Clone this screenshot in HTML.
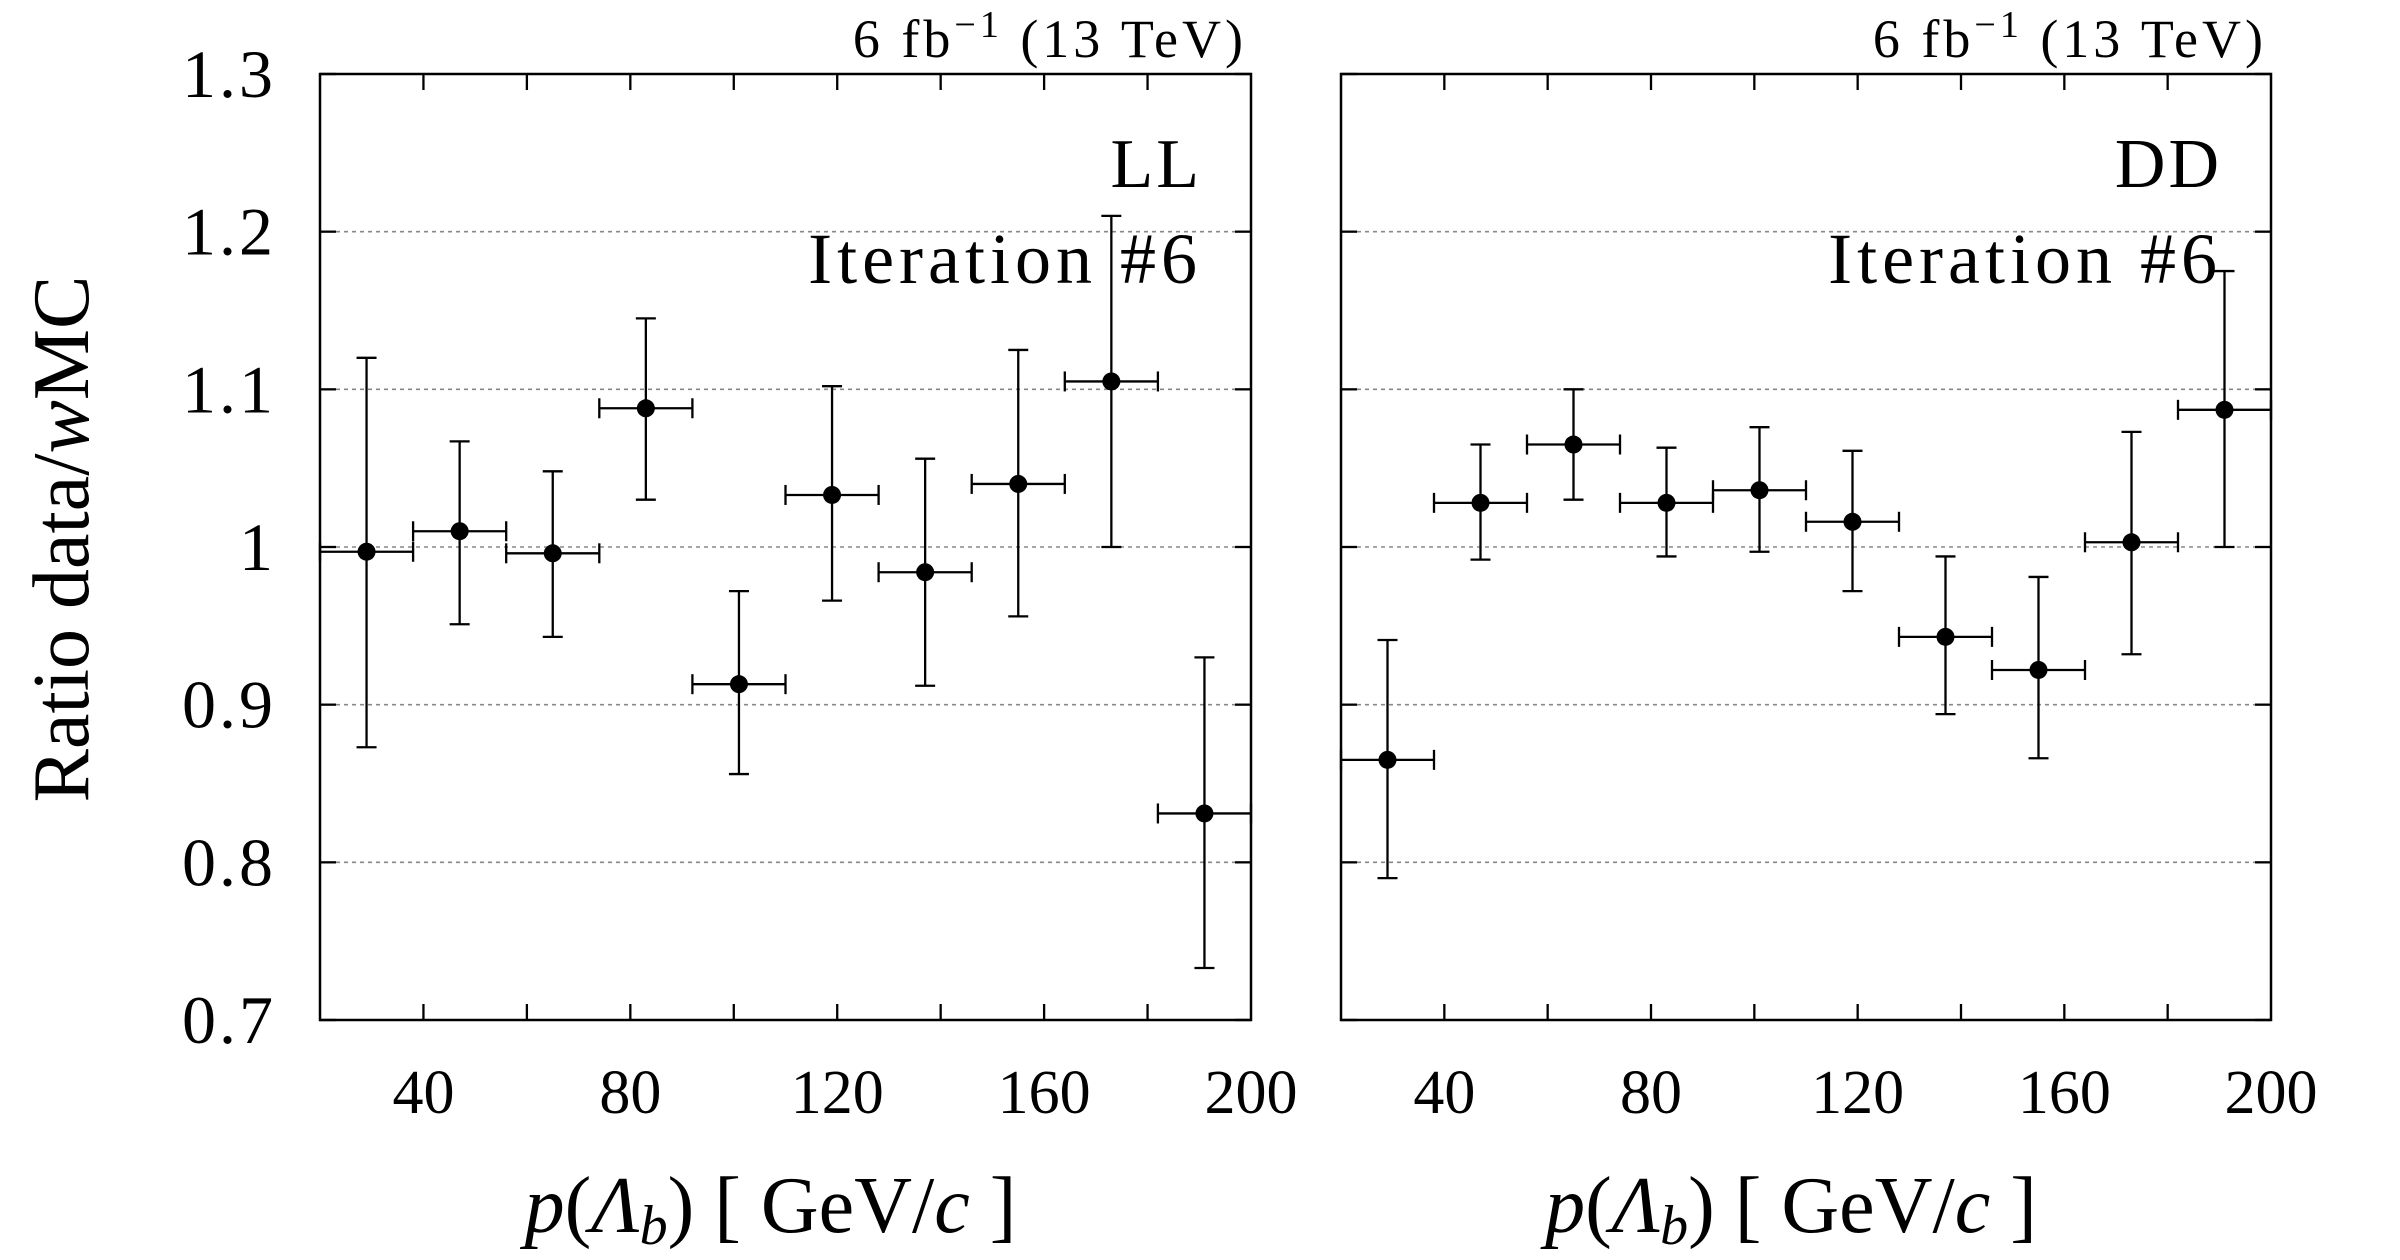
<!DOCTYPE html>
<html><head><meta charset="utf-8"><style>
html,body{margin:0;padding:0;background:#fff}
svg{display:block}
text{font-family:"Liberation Serif",serif;fill:#000}
</style></head><body>
<svg id="c" width="2400" height="1260" viewBox="0 0 2400 1260"></svg>
<script>
const binCenters=[29,47,65,83,101,119,137,155,173,191];
const binHalf=9;
const llValues=[0.997,1.010,0.996,1.088,0.913,1.033,0.984,1.040,1.105,0.831];
const llLow=[0.873,0.951,0.943,1.030,0.856,0.966,0.912,0.956,1.000,0.733];
const llHigh=[1.120,1.067,1.048,1.145,0.972,1.102,1.056,1.125,1.210,0.930];
const ddValues=[0.865,1.028,1.065,1.028,1.036,1.016,0.943,0.922,1.003,1.087];
const ddLow=[0.790,0.992,1.030,0.994,0.997,0.972,0.894,0.866,0.932,1.000];
const ddHigh=[0.941,1.065,1.100,1.063,1.076,1.061,0.994,0.981,1.073,1.175];
const xTicks=[40,80,120,160,200];
const xMinorTicks=[20,60,100,140,180];
const yTicks=[0.7,0.8,0.9,1.0,1.1,1.2,1.3];
const yTickLabels=["0.7","0.8","0.9","1","1.1","1.2","1.3"];
const gridVals=[0.8,0.9,1.0,1.1,1.2];

const NS="http://www.w3.org/2000/svg";
const svg=document.getElementById('c');
function mk(tag,attrs,parent,txt){const e=document.createElementNS(NS,tag);for(const k in attrs)e.setAttribute(k,attrs[k]);if(txt!==undefined)e.textContent=txt;(parent||svg).appendChild(e);return e;}
const plotTop=74,plotBot=1020,yMin=0.7,yMax=1.3,xMin=20,xMax=200;

function panel(left,right,vals,lo,hi,tag,name,showY){
  const g=mk('g',{});
  
  
  const X=v=>left+(v-xMin)/(xMax-xMin)*(right-left);
  const Y=v=>plotBot-(v-yMin)/(yMax-yMin)*(plotBot-plotTop);
  gridVals.forEach(v=>{const l=mk('line',{x1:left,x2:right,y1:Y(v),y2:Y(v),stroke:'#888','stroke-width':1.6,'stroke-dasharray':'4,4'},g);
    });
  const fr=mk('rect',{x:left,y:plotTop,width:right-left,height:plotBot-plotTop,fill:'none',stroke:'#000','stroke-width':2.5},g);
  
  yTicks.forEach((v,i)=>{
    mk('line',{x1:left,x2:left+16,y1:Y(v),y2:Y(v),stroke:'#000','stroke-width':2.3},g);
    mk('line',{x1:right,x2:right-16,y1:Y(v),y2:Y(v),stroke:'#000','stroke-width':2.3},g);
    if(showY){const t=mk('text',{x:left-44,y:Y(v)+23,'font-size':68,'letter-spacing':3,'text-anchor':'end'},g,yTickLabels[i]);
      }
  });
  xTicks.concat(xMinorTicks).forEach(v=>{
    if(v<=xMin||v>=xMax)return;
    mk('line',{x1:X(v),x2:X(v),y1:plotBot,y2:plotBot-16,stroke:'#000','stroke-width':2.3},g);
    mk('line',{x1:X(v),x2:X(v),y1:plotTop,y2:plotTop+16,stroke:'#000','stroke-width':2.3},g);
  });
  xTicks.forEach(v=>{const t=mk('text',{x:X(v),y:1113,'font-size':62,'text-anchor':'middle'},g,String(v));
    });
  vals.forEach((v,i)=>{
    const c=binCenters[i];
    const pg=mk('g',{},g);
    
    mk('line',{x1:X(c),x2:X(c),y1:Y(lo[i]),y2:Y(hi[i]),stroke:'#000','stroke-width':2.3},pg);
    mk('line',{x1:X(c)-10,x2:X(c)+10,y1:Y(lo[i]),y2:Y(lo[i]),stroke:'#000','stroke-width':2.3},pg);
    mk('line',{x1:X(c)-10,x2:X(c)+10,y1:Y(hi[i]),y2:Y(hi[i]),stroke:'#000','stroke-width':2.3},pg);
    mk('line',{x1:X(c-binHalf),x2:X(c+binHalf),y1:Y(v),y2:Y(v),stroke:'#000','stroke-width':2.3},pg);
    mk('line',{x1:X(c-binHalf),x2:X(c-binHalf),y1:Y(v)-10,y2:Y(v)+10,stroke:'#000','stroke-width':2.3},pg);
    mk('line',{x1:X(c+binHalf),x2:X(c+binHalf),y1:Y(v)-10,y2:Y(v)+10,stroke:'#000','stroke-width':2.3},pg);
    mk('circle',{cx:X(c),cy:Y(v),r:9,fill:'#000'},pg);
  });
  const lum=mk('text',{x:right-4,y:57,'font-size':54,'letter-spacing':4,'text-anchor':'end'},g);
  
  lum.innerHTML='6 fb<tspan dy="-20" font-size="38">−1</tspan><tspan dy="20"> (13 TeV)</tspan>';
  const tg=mk('text',{x:right-49,y:187,'font-size':70,'letter-spacing':3,'text-anchor':'end'},g,tag);
  
  const it=mk('text',{x:right-49,y:283,'font-size':72,'letter-spacing':5,'text-anchor':'end'},g,'Iteration #6');
  
  const xt=mk('text',{x:(left+right)/2-15,y:1232,'font-size':80,'text-anchor':'middle'},g);
  
  xt.innerHTML='<tspan font-style="italic">p</tspan>(<tspan font-style="italic">Λ</tspan><tspan font-style="italic" font-size="56" dy="12">b</tspan><tspan dy="-12">) [ GeV/</tspan><tspan font-style="italic">c</tspan> ]';
}
panel(320,1251,llValues,llLow,llHigh,'LL','ll',true);
panel(1341,2271,ddValues,ddLow,ddHigh,'DD','dd',false);
const yt=mk('text',{x:0,y:0,'font-size':80,'text-anchor':'middle',transform:'translate(88,539) rotate(-90)'});

yt.innerHTML='Ratio data/<tspan font-style="italic">w</tspan>MC';
</script>
</body></html>
